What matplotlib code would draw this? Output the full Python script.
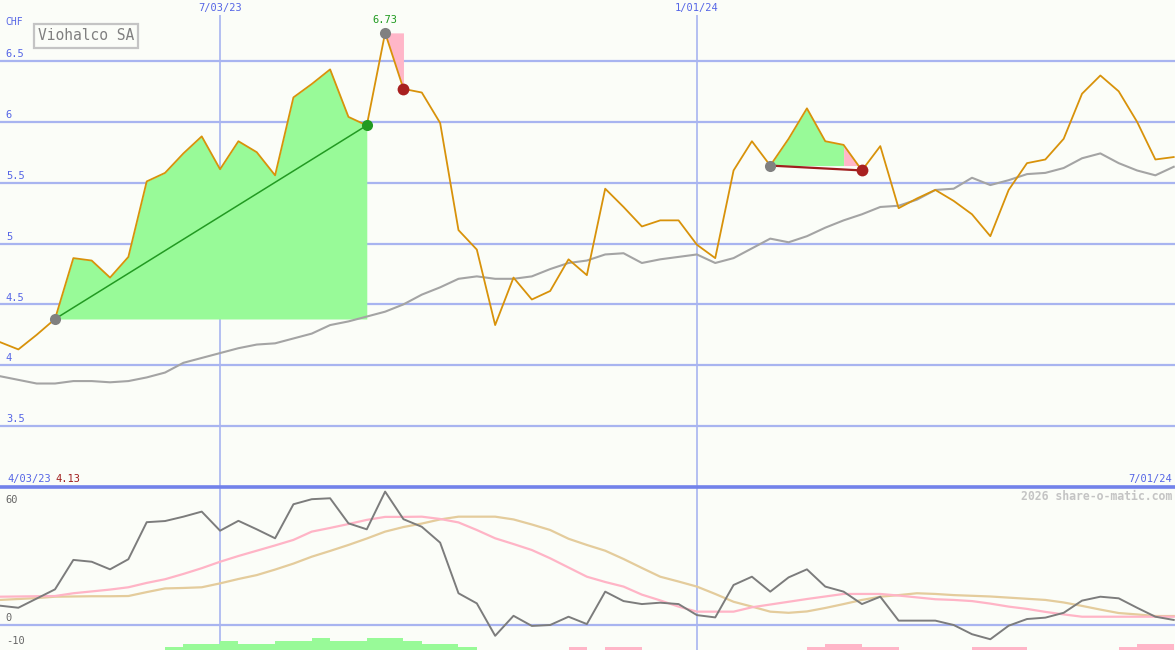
import numpy as np
import matplotlib
matplotlib.use('Agg')
import matplotlib.pyplot as plt
import matplotlib.transforms as mtransforms

# weekly closes, CHF (week 0 = 4/03/23)
price = [4.19, 4.13, 4.25, 4.38, 4.88, 4.86, 4.72, 4.89, 5.51, 5.58,
         5.74, 5.88, 5.61, 5.84, 5.75, 5.56, 6.20, 6.31, 6.43, 6.04,
         5.97, 6.73, 6.27, 6.24, 5.99, 5.11, 4.95, 4.33, 4.72, 4.54,
         4.61, 4.87, 4.74, 5.45, 5.30, 5.14, 5.19, 5.19, 4.99, 4.88,
         5.60, 5.84, 5.64, 5.86, 6.11, 5.84, 5.81, 5.60, 5.80, 5.29,
         5.37, 5.44, 5.35, 5.24, 5.06, 5.44, 5.66, 5.69, 5.86, 6.23,
         6.38, 6.25, 6.00, 5.69, 5.71]

# moving average (gray)
ma = [3.91, 3.88, 3.85, 3.85, 3.87, 3.87, 3.86, 3.87, 3.90, 3.94,
      4.02, 4.06, 4.10, 4.14, 4.17, 4.18, 4.22, 4.26, 4.33, 4.36,
      4.40, 4.44, 4.50, 4.58, 4.64, 4.71, 4.73, 4.71, 4.71, 4.73,
      4.79, 4.84, 4.86, 4.91, 4.92, 4.84, 4.87, 4.89, 4.91, 4.84,
      4.88, 4.96, 5.04, 5.01, 5.06, 5.13, 5.19, 5.24, 5.30, 5.31,
      5.36, 5.44, 5.45, 5.54, 5.48, 5.52, 5.57, 5.58, 5.62, 5.70,
      5.74, 5.66, 5.60, 5.56, 5.63]

# lower panel indicator
osc = [8.4, 7.5, 11.5, 15.5, 28.3, 27.5, 24.2, 28.6, 44.7, 45.2,
       47.1, 49.3, 41.0, 45.3, 41.6, 37.7, 52.5, 54.7, 55.1, 44.2,
       41.6, 58.0, 46.0, 42.7, 35.8, 13.8, 9.4, -4.7, 4.0, -0.4,
       0.0, 3.6, 0.4, 14.5, 10.4, 9.1, 9.7, 9.1, 4.3, 3.3,
       17.4, 21.0, 14.5, 20.7, 24.2, 16.7, 14.5, 9.1, 12.3, 1.9,
       1.9, 1.9, 0.0, -4.0, -6.2, -0.3, 2.6, 3.2, 5.3, 10.6,
       12.3, 11.6, 7.5, 3.6, 2.2]

sig_fast = [12.3, 12.4, 12.5, 12.6, 13.8, 14.6, 15.4, 16.4, 18.3, 19.9,
            22.2, 24.7, 27.5, 30.0, 32.3, 34.6, 37.0, 40.6, 42.2, 43.9,
            45.7, 47.0, 47.0, 47.1, 46.1, 44.6, 41.3, 37.7, 35.2, 32.6,
            29.0, 25.0, 21.0, 18.7, 16.7, 13.2, 10.7, 8.0, 5.8, 5.8,
            5.8, 7.7, 8.9, 10.1, 11.3, 12.4, 13.5, 13.5, 13.5, 12.8,
            12.0, 11.2, 10.9, 10.4, 9.3, 8.0, 7.0, 5.7, 4.6, 3.6,
            3.6, 3.6, 3.6, 3.6, 3.6]

sig_slow = [10.9, 11.3, 11.7, 12.3, 12.4, 12.5, 12.5, 12.6, 14.3, 15.9,
            16.1, 16.4, 18.1, 20.0, 21.7, 24.1, 26.7, 29.7, 32.2, 34.8,
            37.6, 40.6, 42.6, 44.1, 45.9, 47.1, 47.1, 47.1, 45.9, 43.7,
            41.3, 37.5, 34.8, 32.3, 28.7, 24.8, 21.0, 18.9, 16.7, 13.5,
            10.1, 8.0, 5.8, 5.3, 5.9, 7.4, 9.1, 10.9, 12.3, 13.0,
            13.8, 13.5, 13.0, 12.7, 12.4, 11.9, 11.4, 10.9, 9.8, 8.3,
            6.7, 5.2, 4.6, 3.9, 3.9]

# histogram strip, signed levels
hist = ([0] * 9 + [1, 2, 2, 3, 2, 2, 3, 3, 4, 3, 3, 4, 4, 3, 2, 2, 1]
        + [0] * 5 + [-1] + [0] + [-1, -1] + [0] * 9 + [-1, -2, -2, -1, -1]
        + [0] * 4 + [-1, -1, -1] + [0] * 5 + [-1, -2, -2] + [0])

date_pos = [12, 38]
date_labels = ['7/03/23', '1/01/24']
start_label, end_label = '4/03/23', '7/01/24'
price_ticks = [3.5, 4, 4.5, 5, 5.5, 6, 6.5]
osc_ticks = [60, 0, -10]

# trades: (entry, exit)
up_trade = (3, 20)
drop = (21, 22)
up_trade2 = (42, 46, 47)

price = np.array(price)
weeks = np.arange(len(price))

W, H = 1175, 650
bg = '#fbfdf8'
grid = '#a8b4f0'
blue = '#5565e6'
mono = 'DejaVu Sans Mono'

fig = plt.figure(figsize=(W / 100, H / 100), dpi=100)
fig.patch.set_facecolor(bg)
split = 163 / H
ax = fig.add_axes([0, split, 1, 1 - split])
ax2 = fig.add_axes([0, 0, 1, split])
for a in (ax, ax2):
    a.set_axis_off()
    a.set_xlim(0, 64.07)
ax.set_ylim(3, 7.0)
ax2.set_ylim(-10.87, 60)

# ---- main panel
for v in price_ticks:
    ax.axhline(v, color=grid, lw=1.6, zorder=1)
    ax.text(0.005, v + 0.015, f'{v:g}', transform=ax.get_yaxis_transform(),
            va='bottom', ha='left', color=blue, fontsize=7.5, family=mono)
ax.vlines(date_pos, 3, 6.88, color=grid, lw=1.2, zorder=1)
top_tr = mtransforms.blended_transform_factory(ax.transData, ax.transAxes)
for p, lab in zip(date_pos, date_labels):
    ax.text(p, 1 - 8 / 487, lab, transform=top_tr, ha='center', va='center',
            color=blue, fontsize=7.5, family=mono)
ax.text(5 / W, 1 - 22 / 487, 'CHF', transform=ax.transAxes, va='center',
        ha='left', color=blue, fontsize=7, family=mono)
ax.text(38 / W, 1 - 36 / 487, 'Viohalco SA', transform=ax.transAxes,
        va='center', ha='left', color='#808080', fontsize=10.5, family=mono,
        bbox=dict(boxstyle='square,pad=0.28', fc='none', ec='#c4c4c4', lw=1.6))

green_fill = '#98fa98'
pink_fill = '#ffb6c8'

a0, a1 = up_trade
ax.fill_between(weeks[a0:a1 + 1], price[a0:a1 + 1], price[a0],
                color=green_fill, lw=0, zorder=2)
d0, d1 = drop
ax.fill_between(weeks[d0:d1 + 1], price[d0:d1 + 1], price[d0],
                color=pink_fill, lw=0, zorder=2)
b0, b1, b2 = up_trade2
ax.fill_between(weeks[b0:b1 + 1], price[b0:b1 + 1], price[b0],
                color=green_fill, lw=0, zorder=2)
seg = price[b1:b2 + 1]
ax.fill_between(weeks[b1:b2 + 1], seg, price[b0], where=seg >= price[b0],
                interpolate=True, color=pink_fill, lw=0, zorder=2)

ax.plot(weeks, ma, color='#a4a4a4', lw=1.5, zorder=3)
ax.plot(weeks, price, color='#d8920a', lw=1.3, zorder=4)

ax.plot([a0, a1], [price[a0], price[a1]], color='#229a22', lw=1.1, zorder=5)
ax.plot([b0, b2], [price[b0], price[b2]], color='#a01e1e', lw=1.6, zorder=5)

for i in (a0, d0, b0):
    ax.plot(weeks[i], price[i], 'o', color='#808080', ms=8, mec='none', zorder=6)
ax.plot(weeks[a1], price[a1], 'o', color='#229a22', ms=8, mec='none', zorder=6)
for i in (d1, b2):
    ax.plot(weeks[i], price[i], 'o', color='#a82020', ms=8.5, mec='none', zorder=6)

imax = int(price.argmax())
ax.annotate(f'{price.max():.2f}', (weeks[imax], price.max()), xytext=(0, 9.5),
            textcoords='offset points', ha='center', va='center',
            color='#1f9a1f', fontsize=7.5, family=mono)

# ---- lower panel
ax2.axhline(0, color=grid, lw=1.6, zorder=1)
ax2.vlines(date_pos, -10.87, 60, color=grid, lw=1.2, zorder=1)
ax2.axhline(60, color='#7282ea', lw=2.6, zorder=7, clip_on=False)

hist = np.array(hist)
lvl = 3 / 2.3
bottom = ax2.get_ylim()[0]
pos = hist > 0
neg = hist < 0
ax2.bar(weeks[pos], hist[pos] * lvl, bottom=bottom, width=1, align='edge',
        color=green_fill, lw=0, zorder=2)
ax2.bar(weeks[neg], -hist[neg] * lvl, bottom=bottom, width=1, align='edge',
        color=pink_fill, lw=0, zorder=2)

ax2.plot(weeks, sig_slow, color='#e4cc9c', lw=1.6, zorder=3)
ax2.plot(weeks, sig_fast, color='#ffb4c6', lw=1.6, zorder=3)
ax2.plot(weeks, osc, color='#7c7c7c', lw=1.4, zorder=4)

ytr = ax2.get_yaxis_transform()
for v in osc_ticks:
    if v == max(osc_ticks):
        ax2.text(0.005, v - 3.5, f'{v}', transform=ytr, va='top', ha='left',
                 color='#666666', fontsize=7.5, family=mono)
    else:
        ax2.text(0.005, v + 0.8, f'{v}', transform=ytr, va='bottom', ha='left',
                 color='#666666', fontsize=7.5, family=mono)

fig.text(7 / W, 1 - 479 / H, start_label, ha='left', va='center',
         color=blue, fontsize=7.5, family=mono)
fig.text(55 / W, 1 - 479 / H, f'{price.min():.2f}', ha='left', va='center',
         color='#a01e1e', fontsize=7.5, family=mono)
fig.text(1172 / W, 1 - 479 / H, end_label, ha='right', va='center',
         color=blue, fontsize=7.5, family=mono)
fig.text(1172 / W, 1 - 496 / H, '2026 share-o-matic.com', ha='right',
         va='center', color='#c4c4c4', fontsize=8.3, family=mono,
         fontweight='bold')

fig.savefig('out.png', dpi=100, facecolor=bg)
